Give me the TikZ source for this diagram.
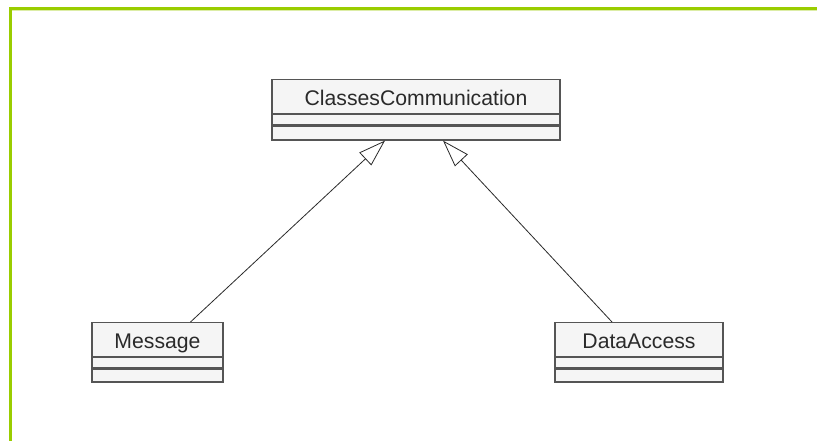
\documentclass[tikz,border=0pt]{standalone}
\usepackage{fontspec}
\setmainfont{Liberation Sans}
\usetikzlibrary{arrows.meta}
\definecolor{frame}{HTML}{9ACD00}
\definecolor{boxline}{HTML}{555555}
\definecolor{boxfill}{HTML}{F5F5F5}
\definecolor{ink}{HTML}{2A2A2A}
\tikzset{
  classname/.style={draw=boxline, fill=boxfill, line width=1.2pt, inner sep=0pt,
    text=ink, font=\fontsize{21.2}{25}\selectfont, text height=20pt, text depth=3pt,
    anchor=north},
  compart/.style={draw=boxline, fill=boxfill, line width=1.2pt, inner sep=0pt, anchor=north},
  realize/.style={draw=ink, line width=0.8pt,
    -{Triangle[open, length=27pt, width=17.5pt, fill=white]}},
}
\begin{document}
\begin{tikzpicture}[x=1pt, y=-1pt]
  \useasboundingbox (0,0) rectangle (817,441);
  \fill[white] (0,0) rectangle (817,441);
  % green page frame
  \draw[frame, line width=3pt] (10.5,441) -- (10.5,8.5) -- (817,8.5);
  \draw[frame!35, line width=1pt] (12,10.5) -- (817,10.5);

  % ClassesCommunication
  \node[classname, minimum width=288pt, minimum height=34pt] (cc) at (416,79) {ClassesCommunication};
  \node[compart, minimum width=288pt, minimum height=10pt] (cc1) at (cc.south) {};
  \node[compart, minimum width=288pt, minimum height=14pt] (cc2) at (cc1.south) {};

  % Message
  \node[classname, minimum width=131pt, minimum height=34pt] (msg) at (157.5,322) {Message};
  \node[compart, minimum width=131pt, minimum height=10pt] (msg1) at (msg.south) {};
  \node[compart, minimum width=131pt, minimum height=13pt] (msg2) at (msg1.south) {};

  % DataAccess
  \node[classname, minimum width=168pt, minimum height=34pt] (da) at (639,322) {DataAccess};
  \node[compart, minimum width=168pt, minimum height=10pt] (da1) at (da.south) {};
  \node[compart, minimum width=168pt, minimum height=13pt] (da2) at (da1.south) {};

  % generalisation arrows
  \draw[realize] ([xshift=33pt]msg.north) -- ([xshift=-31pt]cc2.south);
  \draw[realize] ([xshift=-27pt]da.north) -- ([xshift=27pt]cc2.south);
\end{tikzpicture}
\end{document}
